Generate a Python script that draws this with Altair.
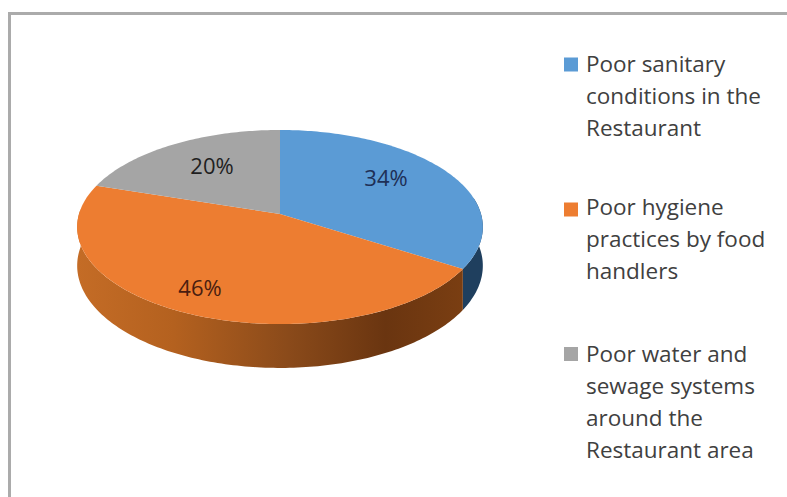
import math
import altair as alt
import pandas as pd

# Slice shares in percent, clockwise from twelve o'clock
shares = [34, 46, 20]
share_labels = ["34%", "46%", "20%"]
legend_labels = [
    "Poor sanitary\nconditions in the\nRestaurant",
    "Poor hygiene\npractices by food\nhandlers",
    "Poor water and\nsewage systems\naround the\nRestaurant area",
]
face_colors = ["#5B9BD5", "#ED7D31", "#A5A5A5"]
label_colors = ["#1E2F56", "#4A1D10", "#1F1F1F"]

# Layout of the tilted disc (pixels)
APEX = (280, 214)
RX, RY, TILT, DEPTH = 201, 95.3, 0.134, 38

label_x = [386, 200, 212]
label_y = [179, 289, 167]
swatch_x = [571, 571, 571]
swatch_y = [64.5, 209.5, 354]
legend_text_x = 586
legend_text_y = [65, 208, 355]
LINE_GAP = 32


def project(angle_deg, drop=0.0):
    """Perspective view of a point on the disc rim, angle measured clockwise from the back."""
    a = math.radians(angle_deg)
    u, v = math.sin(a), -math.cos(a)
    w = 1 - TILT * v
    return [RX * u / w, (RY * v + drop) / w]


def rim(start, end, drop=0.0):
    steps = max(2, int(abs(end - start)))
    return [project(start + (end - start) * i / steps, drop) for i in range(steps + 1)]


def geo(ring):
    ring = ring + [ring[0]]
    return {"type": "Feature", "geometry": {"type": "Polygon", "coordinates": [ring]}, "properties": {}}


def shape_layer(feature, fill):
    return (
        alt.Chart(alt.Data(values=[feature]))
        .mark_geoshape(fill=fill, stroke=None, strokeWidth=0)
        .project(type="identity", scale=1, translate=list(APEX))
    )


# Slice boundaries in degrees
edges = [0]
for s in shares:
    edges.append(edges[-1] + s * 3.6)

# Side walls are only seen along the front of the disc
orange_wall = alt.Gradient(
    gradient="linear", x1=0, x2=1, y1=0, y2=0,
    stops=[
        alt.GradientStop(color="#C46C26", offset=0),
        alt.GradientStop(color="#B4611F", offset=0.25),
        alt.GradientStop(color="#8A4A1A", offset=0.55),
        alt.GradientStop(color="#6A3510", offset=0.8),
        alt.GradientStop(color="#7A3E12", offset=1),
    ],
)
walls = [
    (edges[0] + 80, edges[1], "#1F3F5E"),
    (edges[1], edges[2] - 15, orange_wall),
]
layers = []
for start, end, fill in walls:
    ring = rim(start, end) + rim(end, start, DEPTH)
    layers.append(shape_layer(geo(ring), fill))

# Top faces
for i, color in enumerate(face_colors):
    ring = [[0, 0]] + rim(edges[i], edges[i + 1])
    layers.append(shape_layer(geo(ring), color))

# Percent labels on the slices
share_df = pd.DataFrame({"px": label_x, "py": label_y, "label": share_labels, "color": label_colors})
layers.append(
    alt.Chart(share_df)
    .mark_text(font="Open Sans", fontSize=22, align="center", baseline="middle")
    .encode(
        x=alt.X("px:Q", scale=None, axis=None),
        y=alt.Y("py:Q", scale=None, axis=None),
        text="label:N",
        color=alt.Color("color:N", scale=None, legend=None),
    )
)

# Legend swatches and wrapped entries
swatch_df = pd.DataFrame({"px": swatch_x, "py": swatch_y, "color": face_colors})
layers.append(
    alt.Chart(swatch_df)
    .mark_square(size=196, opacity=1)
    .encode(
        x=alt.X("px:Q", scale=None, axis=None),
        y=alt.Y("py:Q", scale=None, axis=None),
        color=alt.Color("color:N", scale=None, legend=None),
    )
)
legend_df = pd.DataFrame({"px": [legend_text_x] * 3, "py": legend_text_y, "label": legend_labels})
layers.append(
    alt.Chart(legend_df)
    .mark_text(
        font="Open Sans", fontSize=22.5, align="left", baseline="middle",
        lineBreak="\n", lineHeight=LINE_GAP, color="#404040",
    )
    .encode(
        x=alt.X("px:Q", scale=None, axis=None),
        y=alt.Y("py:Q", scale=None, axis=None),
        text="label:N",
    )
)

# Chart frame: top and left edges
frame = pd.DataFrame({"x1": [8, 8], "x2": [787, 11], "y1": [12, 12], "y2": [15, 497]})
layers.append(
    alt.Chart(frame)
    .mark_rect(color="#ABABAB")
    .encode(
        x=alt.X("x1:Q", scale=None, axis=None),
        x2="x2:Q",
        y=alt.Y("y1:Q", scale=None, axis=None),
        y2="y2:Q",
    )
)

chart = (
    alt.layer(*layers)
    .properties(width=787, height=497, padding=0, autosize=alt.AutoSizeParams(type="none"), background="white")
    .configure_view(stroke=None)
)
chart.save("out.html", embed_options={"renderer": "svg", "actions": False})
